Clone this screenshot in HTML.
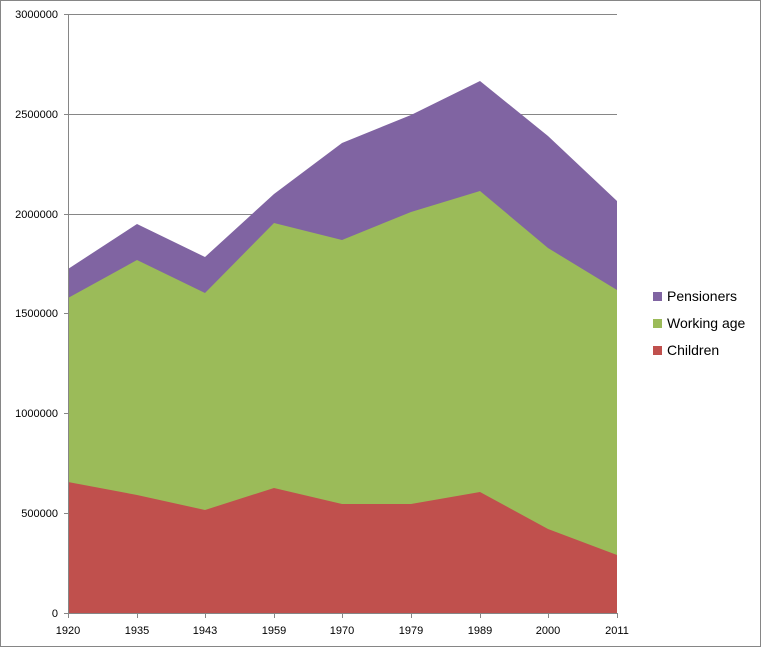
<!DOCTYPE html><html><head><style>body{margin:0;background:#fff}svg{display:block;font-family:"Liberation Sans",sans-serif}</style></head><body>
<svg width="762" height="648" xmlns="http://www.w3.org/2000/svg">
<rect x="0.5" y="0.5" width="760" height="646" fill="#fff" stroke="#868686"/>
<g stroke="#868686" stroke-width="1">
<line x1="68" y1="14.5" x2="617" y2="14.5"/><line x1="68" y1="114.5" x2="617" y2="114.5"/><line x1="68" y1="214.5" x2="617" y2="214.5"/><line x1="68" y1="313.5" x2="617" y2="313.5"/><line x1="68" y1="413.5" x2="617" y2="413.5"/><line x1="68" y1="513.5" x2="617" y2="513.5"/>
</g>
<polygon fill="#8064a2" points="68,269 137,224 205,257 274,194 342,143 411,115 480,81 548,136 617,201 617,613 68,613"/>
<polygon fill="#9bbb59" points="68,298 137,260 205,293 274,223 342,240 411,212 480,191 548,248 617,290 617,613 68,613"/>
<polygon fill="#c0504d" points="68,482 137,495 205,510 274,488 342,504 411,504 480,492 548,529 617,555 617,613 68,613"/>
<g stroke="#868686"><line x1="68.5" y1="14" x2="68.5" y2="613"/><line x1="64" y1="613.5" x2="617" y2="613.5"/>
<line x1="64" y1="14.5" x2="68" y2="14.5"/><line x1="64" y1="114.5" x2="68" y2="114.5"/><line x1="64" y1="214.5" x2="68" y2="214.5"/><line x1="64" y1="313.5" x2="68" y2="313.5"/><line x1="64" y1="413.5" x2="68" y2="413.5"/><line x1="64" y1="513.5" x2="68" y2="513.5"/>
<line x1="68.5" y1="613" x2="68.5" y2="618"/><line x1="137.5" y1="613" x2="137.5" y2="618"/><line x1="205.5" y1="613" x2="205.5" y2="618"/><line x1="274.5" y1="613" x2="274.5" y2="618"/><line x1="342.5" y1="613" x2="342.5" y2="618"/><line x1="411.5" y1="613" x2="411.5" y2="618"/><line x1="480.5" y1="613" x2="480.5" y2="618"/><line x1="548.5" y1="613" x2="548.5" y2="618"/><line x1="617.5" y1="613" x2="617.5" y2="618"/></g>
<g font-size="11" fill="#000" text-anchor="end">
<text x="58" y="18">3000000</text><text x="58" y="118">2500000</text><text x="58" y="218">2000000</text><text x="58" y="317">1500000</text><text x="58" y="417">1000000</text><text x="58" y="517">500000</text><text x="58" y="617">0</text></g>
<g font-size="11" fill="#000" text-anchor="middle">
<text x="68" y="634">1920</text><text x="137" y="634">1935</text><text x="205" y="634">1943</text><text x="274" y="634">1959</text><text x="342" y="634">1970</text><text x="411" y="634">1979</text><text x="480" y="634">1989</text><text x="548" y="634">2000</text><text x="617" y="634">2011</text></g>
<rect x="653" y="292" width="9" height="9" fill="#8064a2"/><rect x="653" y="319" width="9" height="9" fill="#9bbb59"/><rect x="653" y="346" width="9" height="9" fill="#c0504d"/>
<g font-size="14" fill="#000"><text x="667" y="301">Pensioners</text><text x="667" y="328">Working age</text><text x="667" y="355">Children</text></g>
</svg></body></html>
